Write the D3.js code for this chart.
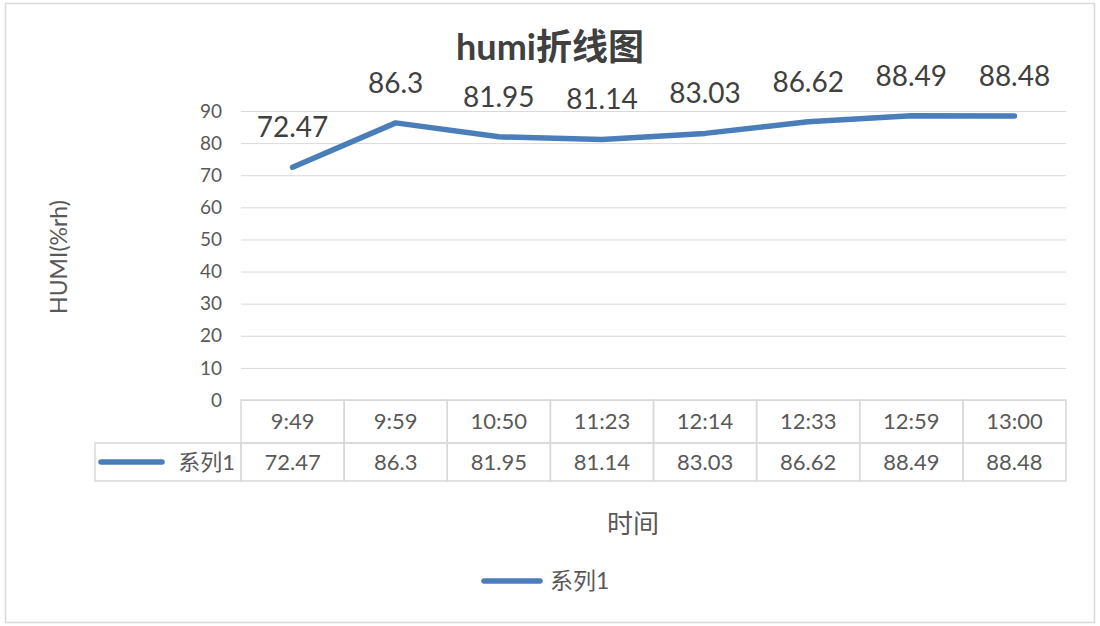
<!DOCTYPE html>
<html>
<head>
<meta charset="utf-8">
<script src="https://cdn.jsdelivr.net/npm/d3@7"></script>
<style>
	body { margin: 0; background: #fff; }
	svg { display: block; font-family: Lato, "Noto Sans CJK SC", sans-serif; }
	.grid line { stroke: #d9d9d9; }
	.grid .domain { display: none; }
	.cell { fill: none; stroke: #d9d9d9; stroke-width: 1.5; }
	.ttxt { fill: #595959; font-size: 22px; }
</style>
</head>
<body>
<svg width="1100" height="626"></svg>
<script>
var times = ["9:49", "9:59", "10:50", "11:23", "12:14", "12:33", "12:59", "13:00"];
var humi = [72.47, 86.3, 81.95, 81.14, 83.03, 86.62, 88.49, 88.48];
var yTicks = [0, 10, 20, 30, 40, 50, 60, 70, 80, 90];
var seriesName = "系列1";

var margin = {top: 111, right: 34, bottom: 226, left: 241};
var width = 1100 - margin.left - margin.right;
var height = 626 - margin.top - margin.bottom;
var blue = "#4a7ebb";

var svg = d3.select("svg");

// chart border
svg.append("rect").attr("x", 5.5).attr("y", 3.5).attr("width", 1089).attr("height", 619)
	.attr("fill", "none").attr("stroke", "#d9d9d9").attr("stroke-width", 1.5);

var x = d3.scaleBand().domain(times).range([0, width]);
var y = d3.scaleLinear().domain([0, 90]).range([height, 0]);

var g = svg.append("g").attr("transform", "translate(" + margin.left + "," + margin.top + ")");

// gridlines
g.append("g").attr("class", "grid")
	.call(d3.axisLeft(y).tickValues(yTicks).tickSize(-width).tickFormat(""));

// y tick labels
g.append("g").selectAll("text").data(yTicks).enter().append("text")
	.attr("x", -19).attr("y", function(d) { return y(d); })
	.attr("dy", "0.35em").attr("text-anchor", "end")
	.attr("fill", "#595959").style("font-size", "19px")
	.text(function(d) { return d; });

// title
svg.append("text").attr("x", 550).attr("y", 60).attr("text-anchor", "middle")
	.attr("fill", "#404040").style("font-size", "36px").style("font-weight", "bold")
	.text("humi折线图");

// y axis title
svg.append("text").attr("transform", "translate(67,257) rotate(-90)")
	.attr("text-anchor", "middle").attr("fill", "#595959").style("font-size", "23px")
	.text("HUMI(%rh)");

// line
var line = d3.line()
	.x(function(d, i) { return x(times[i]) + x.bandwidth() / 2; })
	.y(function(d) { return y(d); });

g.append("path").datum(humi).attr("d", line)
	.attr("fill", "none").attr("stroke", blue).attr("stroke-width", 5.5)
	.attr("stroke-linejoin", "round").attr("stroke-linecap", "round");

// data labels
g.append("g").selectAll("text").data(humi).enter().append("text")
	.attr("x", function(d, i) { return x(times[i]) + x.bandwidth() / 2; })
	.attr("y", function(d) { return y(d) - 30; })
	.attr("text-anchor", "middle").attr("fill", "#404040").style("font-size", "28px")
	.text(function(d) { return d; });

// data table
var rowH1 = 43, rowH2 = 38, keyLeft = 95 - margin.left;
var tbl = g.append("g").attr("transform", "translate(0," + height + ")");

tbl.selectAll(".hcell").data(times).enter().append("rect").attr("class", "cell")
	.attr("x", function(d) { return x(d); }).attr("y", 0)
	.attr("width", x.bandwidth()).attr("height", rowH1);
tbl.selectAll(".vcell").data(times).enter().append("rect").attr("class", "cell")
	.attr("x", function(d) { return x(d); }).attr("y", rowH1)
	.attr("width", x.bandwidth()).attr("height", rowH2);
tbl.append("rect").attr("class", "cell").attr("x", keyLeft).attr("y", rowH1)
	.attr("width", -keyLeft).attr("height", rowH2);

tbl.selectAll(".htxt").data(times).enter().append("text").attr("class", "ttxt")
	.attr("x", function(d) { return x(d) + x.bandwidth() / 2; })
	.attr("y", rowH1 / 2).attr("dy", "0.35em").attr("text-anchor", "middle")
	.text(function(d) { return d; });
tbl.selectAll(".vtxt").data(humi).enter().append("text").attr("class", "ttxt")
	.attr("x", function(d, i) { return x(times[i]) + x.bandwidth() / 2; })
	.attr("y", rowH1 + rowH2 / 2).attr("dy", "0.35em").attr("text-anchor", "middle")
	.text(function(d) { return d; });

// legend key in table
tbl.append("line").attr("x1", keyLeft + 6).attr("x2", keyLeft + 67)
	.attr("y1", rowH1 + rowH2 / 2).attr("y2", rowH1 + rowH2 / 2)
	.attr("stroke", blue).attr("stroke-width", 5.5).attr("stroke-linecap", "round");
tbl.append("text").attr("class", "ttxt").attr("x", -6).attr("y", rowH1 + rowH2 / 2)
	.attr("dy", "0.35em").attr("text-anchor", "end").text(seriesName);

// x axis title
svg.append("text").attr("x", 633).attr("y", 533).attr("text-anchor", "middle")
	.attr("fill", "#595959").style("font-size", "26px").text("时间");

// legend
var lg = svg.append("g").attr("transform", "translate(482,581)");
lg.append("line").attr("x1", 2).attr("x2", 58).attr("y1", 0).attr("y2", 0)
	.attr("stroke", blue).attr("stroke-width", 5.5).attr("stroke-linecap", "round");
lg.append("text").attr("x", 68).attr("y", 0).attr("dy", "0.35em")
	.attr("fill", "#595959").style("font-size", "23px").text(seriesName);
</script>
</body>
</html>
